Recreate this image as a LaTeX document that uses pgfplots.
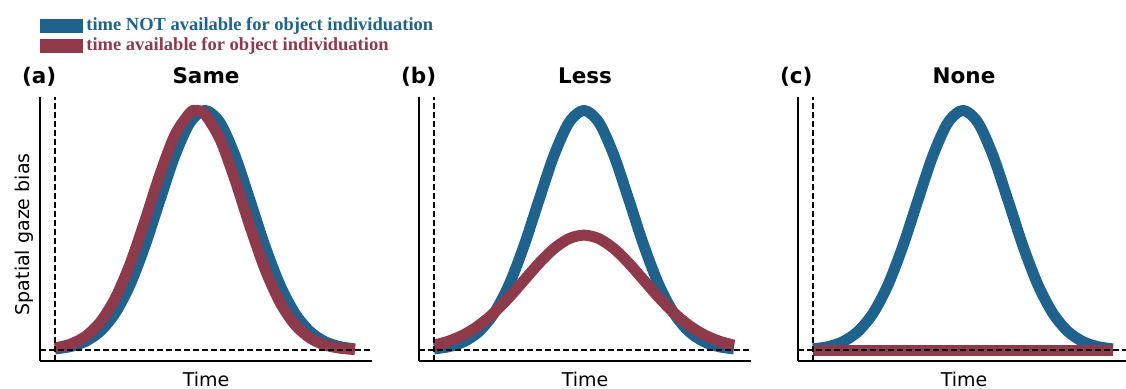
\documentclass[border=0pt]{standalone}
\usepackage{pgfplots}
\pgfplotsset{compat=1.18}
\usepackage{fontspec}
\setmainfont{DejaVu Sans}
\newfontfamily\serifleg{Liberation Serif}
\definecolor{cblue}{RGB}{30,98,142}
\definecolor{cred}{RGB}{143,58,74}

\pgfplotsset{
 panel/.style={
  scale only axis, width=166pt, height=132pt,
  xmin=-0.5, xmax=10.57, ymin=-0.045, ymax=1.056,
  axis x line*=bottom, axis y line*=left,
  axis line style={line width=1pt, -},
  xtick=\empty, ytick=\empty,
  clip=false,
  xlabel={Time},
  xlabel style={at={(axis description cs:0.5,0)}, anchor=base, yshift=-12.5pt, font=\fontsize{9.5}{11}\selectfont},
  title style={at={(axis description cs:0.5,1)}, anchor=base, yshift=1pt, font=\fontsize{10.75}{12}\selectfont\bfseries},
 },
 curve/.style={line width=5.5pt, smooth, line join=round},
 refl/.style={black, line width=0.8pt, dash pattern=on 2.8pt off 1.7pt, forget plot},
}
\tikzset{plab/.style={anchor=base west, inner sep=0pt, xshift=-9.15pt, yshift=7pt, font=\fontsize{10.75}{12}\selectfont\bfseries}}

\pgfplotstableread{
x y
0 0.0055
0.5 0.0148
1 0.0358
1.5 0.0781
2 0.1537
2.5 0.2723
3 0.4350
3.5 0.6261
4 0.8121
4.5 0.9493
5 1
5.5 0.9493
6 0.8121
6.5 0.6261
7 0.4350
7.5 0.2723
8 0.1537
8.5 0.0781
9 0.0358
9.5 0.0148
10 0.0055
}\bluecurve

\pgfplotstableread{
x y
0 0.00969
0.5 0.02457
1 0.0561
1.5 0.1156
2 0.2145
2.5 0.3585
3 0.5403
3.5 0.7336
4 0.8977
4.5 0.9900
4.72 1
5 0.9838
5.5 0.8811
6 0.7111
6.5 0.5172
7 0.3389
7.5 0.2002
8 0.1066
8.5 0.0511
9 0.0221
9.5 0.0086
10 0.0030
}\redsame

\pgfplotstableread{
x y
0 0.0211
0.5 0.0382
1 0.0650
1.5 0.1038
2 0.1558
2.5 0.2197
3 0.2911
3.5 0.3623
4 0.4236
4.5 0.4652
5 0.48
5.5 0.4652
6 0.4236
6.5 0.3623
7 0.2911
7.5 0.2197
8 0.1558
8.5 0.1038
9 0.0650
9.5 0.0382
10 0.0211
}\redless

\pgfplotstableread{
x y
0 0
10 0
}\rednone

\begin{document}
\begin{tikzpicture}
\path[use as bounding box] (0,0) rectangle (563pt,194pt);

% (a)
\begin{axis}[panel, at={(20pt,13.5pt)}, anchor=south west,
  title={Same},
  ylabel={Spatial gaze bias},
  ylabel style={at={(axis description cs:-0.048,0.48)}, anchor=center, font=\fontsize{9.5}{11}\selectfont},
  legend style={at={(axis description cs:0,1.301)}, anchor=north west, draw=none, fill=none,
    inner sep=0pt, outer sep=0pt, row sep=2pt, column sep=1.5pt,
    font=\serifleg\bfseries\fontsize{9.25}{10}\selectfont, nodes={inner sep=0pt}},
  legend cell align=left,
  legend image code/.code={\fill[draw=none, line width=0pt] (0pt,-3.5pt) rectangle (21.7pt,3.5pt);},
]
\addplot[curve, cblue] table[x=x,y=y] {\bluecurve};
\addlegendentry{\textcolor{cblue}{time NOT available for object individuation}}
\addplot[curve, cred] table[x=x,y=y] {\redsame};
\addlegendentry{\textcolor{cred}{time available for object individuation}}
\addplot[refl] coordinates {(0,-0.045) (0,1.056)};
\addplot[refl] coordinates {(-0.5,0) (10.57,0)};
\node[plab] at (rel axis cs:0,1) {(a)};
\end{axis}

% (b)
\begin{axis}[panel, at={(209.5pt,13.5pt)}, anchor=south west, title={Less}]
\addplot[curve, cblue] table[x=x,y=y] {\bluecurve};
\addplot[curve, cred] table[x=x,y=y] {\redless};
\addplot[refl] coordinates {(0,-0.045) (0,1.056)};
\addplot[refl] coordinates {(-0.5,0) (10.57,0)};
\node[plab] at (rel axis cs:0,1) {(b)};
\end{axis}

% (c)
\begin{axis}[panel, at={(399pt,13.5pt)}, anchor=south west, title={None}]
\addplot[curve, cblue] table[x=x,y=y] {\bluecurve};
\addplot[line width=5.5pt, cred] table[x=x,y=y] {\rednone};
\addplot[refl] coordinates {(0,-0.045) (0,1.056)};
\addplot[refl] coordinates {(-0.5,0) (10.57,0)};
\node[plab] at (rel axis cs:0,1) {(c)};
\end{axis}
\end{tikzpicture}
\end{document}
